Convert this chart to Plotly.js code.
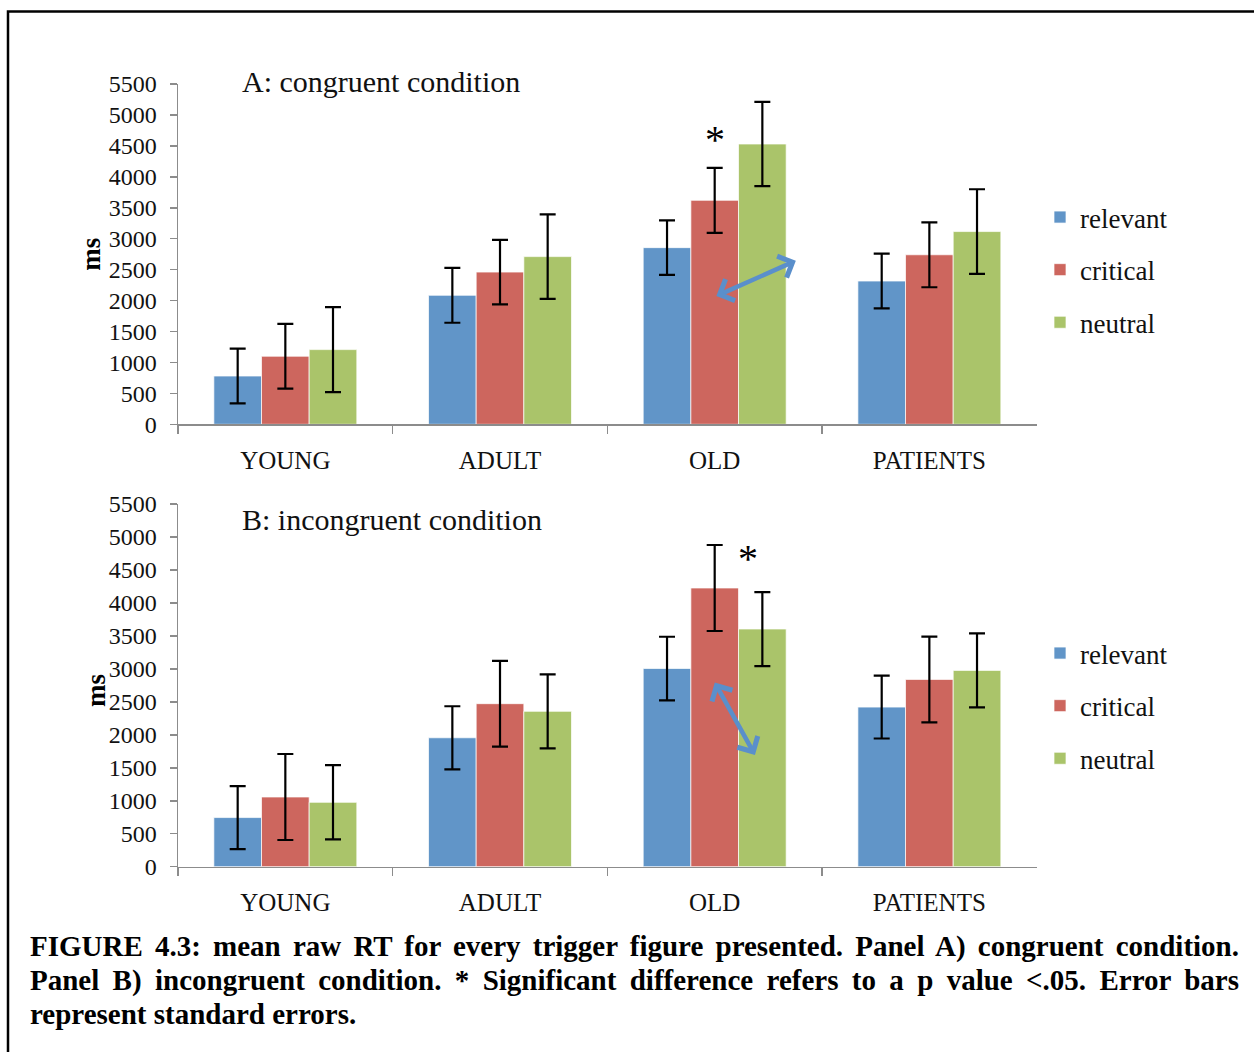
<!DOCTYPE html>
<html>
<head>
<meta charset="utf-8">
<script src="https://cdn.plot.ly/plotly-3.0.1.min.js"></script>
<style>html,body{margin:0;padding:0;background:#fff;}#chart{width:1254px;height:1052px;}</style>
</head>
<body>
<div id="chart"></div>
<script>
// ---- data ----
const categories = ['YOUNG', 'ADULT', 'OLD', 'PATIENTS'];
const seriesNames = ['relevant', 'critical', 'neutral'];

// Panel A: congruent condition (ms)
const relevantA = [780, 2085, 2855, 2315];
const criticalA = [1100, 2460, 3620, 2740];
const neutralA  = [1207, 2710, 4530, 3115];
const relevantErrA = [442, 444, 440, 442];
const criticalErrA = [522, 522, 525, 525];
const neutralErrA  = [687, 682, 680, 684];

// Panel B: incongruent condition (ms)
const relevantB = [745, 1955, 3005, 2420];
const criticalB = [1057, 2472, 4226, 2840];
const neutralB  = [976, 2356, 3604, 2977];
const relevantErrB = [477, 478, 482, 476];
const criticalErrB = [652, 650, 652, 650];
const neutralErrB  = [563, 561, 561, 562];

const panelTitles = ['A: congruent condition', 'B: incongruent condition'];
const yTitle = 'ms';
const captionLines = [
  'FIGURE 4.3: mean raw RT for every trigger figure presented. Panel A) congruent condition.',
  'Panel B) incongruent condition. * Significant difference refers to a p value <.05. Error bars',
  'represent standard errors.'
];

// ---- style ----
const W = 1254, H = 1052;
const colors = ['#6195c8', '#cd665e', '#aac46a'];
const FONT = '"Liberation Serif", "Times New Roman", serif';
const px = v => v / W;
const py = v => (H - v) / H;

function barTrace(name, vals, errs, i, xa, ya, legend) {
  return {
    type: 'bar', name: name, x: categories, y: vals,
    xaxis: xa, yaxis: ya, legend: legend, legendgroup: legend + name,
    marker: {color: colors[i], line: {color: 'rgba(255,255,255,0.7)', width: 1}},
    error_y: {type: 'data', array: errs, visible: true, color: '#000', thickness: 2.2, width: 8},
    hoverinfo: 'x+y+name'
  };
}

const data = [
  barTrace(seriesNames[0], relevantA, relevantErrA, 0, 'x', 'y', 'legend'),
  barTrace(seriesNames[1], criticalA, criticalErrA, 1, 'x', 'y', 'legend'),
  barTrace(seriesNames[2], neutralA, neutralErrA, 2, 'x', 'y', 'legend'),
  barTrace(seriesNames[0], relevantB, relevantErrB, 0, 'x2', 'y2', 'legend2'),
  barTrace(seriesNames[1], criticalB, criticalErrB, 1, 'x2', 'y2', 'legend2'),
  barTrace(seriesNames[2], neutralB, neutralErrB, 2, 'x2', 'y2', 'legend2')
];

const axisGray = '#8c8c8c';
function xAxis(anchor) {
  return {
    domain: [px(178), px(1036.7)], anchor: anchor, type: 'category',
    range: [-0.5, 3.5], showgrid: false, zeroline: false,
    showline: true, linecolor: axisGray, linewidth: 1.5,
    ticks: 'outside', tickson: 'boundaries', ticklen: 8, tickcolor: axisGray, tickwidth: 1.5,
    ticklabelstandoff: 13,
    tickfont: {family: FONT, size: 25, color: '#111'}
  };
}
function yAxis(domain, anchor, withTitle) {
  const ax = {
    domain: domain, anchor: anchor, range: [0, 5500], dtick: 500, tick0: 0,
    showgrid: false, zeroline: false, showline: true, linecolor: axisGray, linewidth: 1.5,
    ticks: 'outside', ticklen: 7, tickcolor: axisGray, tickwidth: 1.5,
    ticklabelstandoff: 8,
    tickfont: {family: FONT, size: 24, color: '#111'}
  };
  if (withTitle) ax.title = {text: '<b>' + yTitle + '</b>', standoff: 0, font: {family: FONT, size: 27, color: '#000'}};
  return ax;
}

const arrowColor = '#5a8fcb';
const legendFont = {family: FONT, size: 27, color: '#111'};
const captionFont = {family: FONT, size: 29, color: '#000'};
const layout = {
  width: W, height: H, margin: {l: 0, r: 0, t: 0, b: 0},
  paper_bgcolor: '#fff', plot_bgcolor: 'rgba(0,0,0,0)',
  font: {family: FONT, color: '#111'},
  barmode: 'group', bargap: 0.334, bargroupgap: 0,
  xaxis: xAxis('y'),
  yaxis: yAxis([py(424.3), py(84)], 'x', true),
  xaxis2: xAxis('y2'),
  yaxis2: yAxis([py(866.7), py(504)], 'x2', false),
  legend: {x: px(1040), xanchor: 'left', y: py(193), yanchor: 'top',
           font: legendFont, tracegroupgap: 14.5, bgcolor: 'rgba(0,0,0,0)', itemclick: false},
  legend2: {x: px(1040), xanchor: 'left', y: py(629), yanchor: 'top',
            font: legendFont, tracegroupgap: 14.5, bgcolor: 'rgba(0,0,0,0)', itemclick: false},
  shapes: [
    {type: 'rect', xref: 'paper', yref: 'paper', x0: px(8), x1: 1.05, y0: -0.05, y1: py(11.5),
     line: {color: '#000', width: 2.5}, fillcolor: 'rgba(0,0,0,0)', layer: 'above'}
  ],
  annotations: [
    {xref: 'paper', yref: 'paper', x: px(240), y: py(82), xanchor: 'left', yanchor: 'middle',
     text: panelTitles[0], showarrow: false, font: {family: FONT, size: 30, color: '#111'}},
    {xref: 'paper', yref: 'paper', x: px(240), y: py(519), xanchor: 'left', yanchor: 'middle',
     text: panelTitles[1], showarrow: false, font: {family: FONT, size: 30, color: '#111'}},
    // y title of panel B (sits slightly into the tick labels in the original)
    {xref: 'paper', yref: 'paper', x: px(96), y: py(691), xanchor: 'center', yanchor: 'middle',
     text: '<b>' + yTitle + '</b>', textangle: -90, showarrow: false, font: {family: FONT, size: 27, color: '#000'}},
    // significance markers
    {xref: 'x', yref: 'y', x: 2.0, y: 4204, yanchor: 'bottom', text: '*', showarrow: false,
     font: {family: FONT, size: 40, color: '#000'}},
    {xref: 'x2', yref: 'y2', x: 2.156, y: 4297, yanchor: 'bottom', text: '*', showarrow: false,
     font: {family: FONT, size: 40, color: '#000'}},
    // double-headed arrows
    {xref: 'x', yref: 'y', x: 2.378, y: 2644, axref: 'pixel', ayref: 'pixel', ax: -81, ay: 36,
     text: '', showarrow: true, arrowside: 'end+start', arrowhead: 4, startarrowhead: 4,
     arrowsize: 1, startarrowsize: 1, arrowwidth: 4.5, arrowcolor: arrowColor},
    {xref: 'x2', yref: 'y2', x: 2.1875, y: 1694, axref: 'pixel', ayref: 'pixel', ax: -41, ay: -74,
     text: '', showarrow: true, arrowside: 'end+start', arrowhead: 4, startarrowhead: 4,
     arrowsize: 1, startarrowsize: 1, arrowwidth: 4.5, arrowcolor: arrowColor},
    // caption
    {xref: 'paper', yref: 'paper', x: px(28), y: py(946), xanchor: 'left', yanchor: 'middle', align: 'left',
     text: '<b>' + captionLines[0].replace(/</g, '&lt;') + '</b>', showarrow: false, font: captionFont},
    {xref: 'paper', yref: 'paper', x: px(28), y: py(980), xanchor: 'left', yanchor: 'middle', align: 'left',
     text: '<b>' + captionLines[1].replace(/</g, '&lt;') + '</b>', showarrow: false, font: captionFont},
    {xref: 'paper', yref: 'paper', x: px(28), y: py(1014), xanchor: 'left', yanchor: 'middle', align: 'left',
     text: '<b>' + captionLines[2] + '</b>', showarrow: false, font: captionFont}
  ]
};

Plotly.newPlot('chart', data, layout, {displayModeBar: false, staticPlot: true}).then(function () {
  // justify the first two caption lines (as in the original) by adjusting word spacing
  const targetWidth = 1237 - 28;
  document.querySelectorAll('.annotation-text').forEach(function (el) {
    const t = el.textContent;
    if (t.indexOf('FIGURE') === 0 || t.indexOf('Panel B)') === 0) {
      const w = el.getComputedTextLength();
      const n = (t.match(/ /g) || []).length;
      if (n > 0) el.style.wordSpacing = ((targetWidth - w) / n) + 'px';
    }
  });
});
</script>
</body>
</html>
